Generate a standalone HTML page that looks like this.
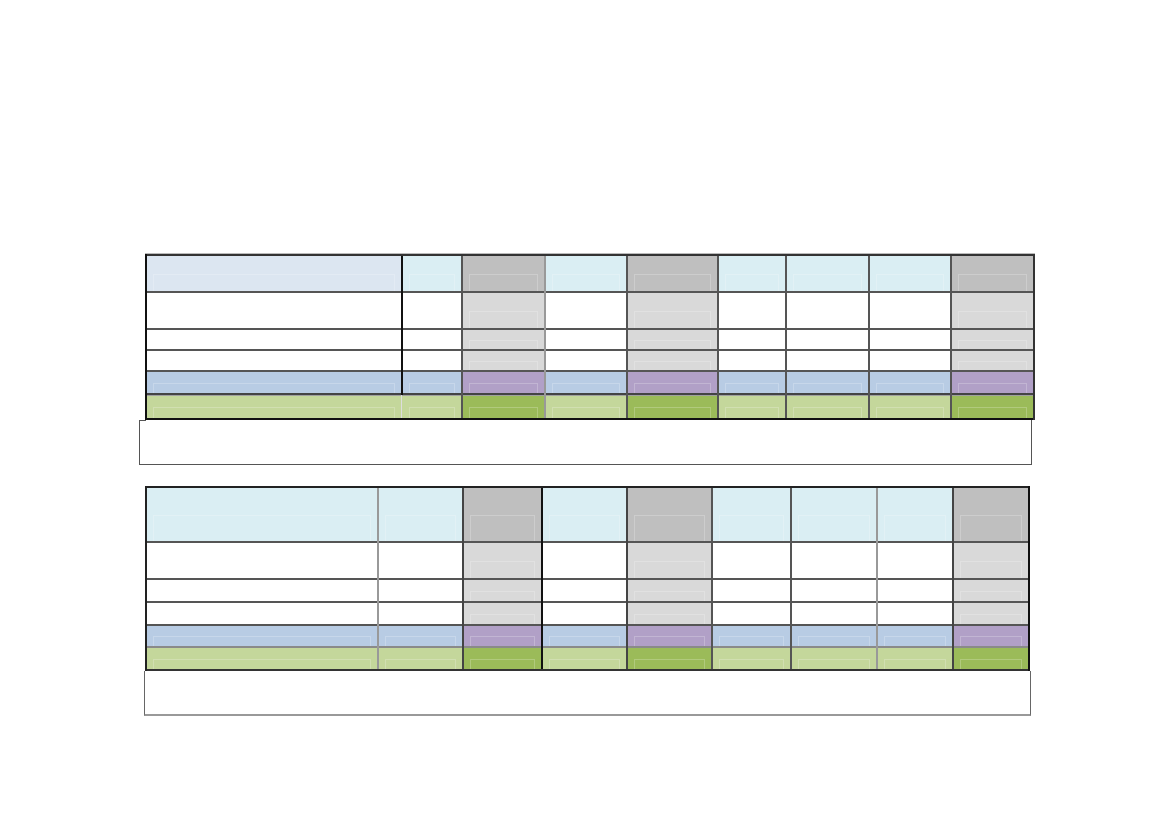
<!DOCTYPE html>
<html>
<head>
<meta charset="utf-8">
<style>
  html, body { margin:0; padding:0; background:#fff; }
  body { width:1169px; height:826px; position:relative; overflow:hidden; font-family:"Liberation Sans", sans-serif; }
  .grid { position:absolute; display:grid; }
  .grid > div { position:relative; }
  .grid > div::after { content:''; position:absolute; left:7px; right:7px; top:50%; bottom:0; border:1px solid rgba(255,255,255,0.22); border-bottom:none; }
  .hl { background:#dce6f1; }
  .hn { background:#daeef3; }
  .hg { background:#bfbfbf; }
  .bw { background:#ffffff; }
  .bg { background:#d9d9d9; }
  .ub { background:#b8cce4; }
  .up { background:#b1a0c7; }
  .gl { background:#c4d79b; }
  .gd { background:#9bbb59; }
  .l { position:absolute; }
</style>
</head>
<body>

<!-- TABLE 1 -->
<div class="grid" style="left:146px; top:255px; width:888px; height:164px; grid-template-columns:256px 60px 83px 82px 91px 68px 83px 82px 83px; grid-template-rows:37px 37px 21px 21px 23px 25px;">
  <div class="hl"></div><div class="hn"></div><div class="hg"></div><div class="hn"></div><div class="hg"></div><div class="hn"></div><div class="hn"></div><div class="hn"></div><div class="hg"></div>
  <div class="bw"></div><div class="bw"></div><div class="bg"></div><div class="bw"></div><div class="bg"></div><div class="bw"></div><div class="bw"></div><div class="bw"></div><div class="bg"></div>
  <div class="bw"></div><div class="bw"></div><div class="bg"></div><div class="bw"></div><div class="bg"></div><div class="bw"></div><div class="bw"></div><div class="bw"></div><div class="bg"></div>
  <div class="bw"></div><div class="bw"></div><div class="bg"></div><div class="bw"></div><div class="bg"></div><div class="bw"></div><div class="bw"></div><div class="bw"></div><div class="bg"></div>
  <div class="ub"></div><div class="ub"></div><div class="up"></div><div class="ub"></div><div class="up"></div><div class="ub"></div><div class="ub"></div><div class="ub"></div><div class="up"></div>
  <div class="gl"></div><div class="gl"></div><div class="gd"></div><div class="gl"></div><div class="gd"></div><div class="gl"></div><div class="gl"></div><div class="gl"></div><div class="gd"></div>
</div>

<!-- table 1 horizontal lines -->
<div class="l" style="left:146px; top:291px; width:888px; height:2px; background:#555;"></div>
<div class="l" style="left:146px; top:328px; width:888px; height:2px; background:#555;"></div>
<div class="l" style="left:146px; top:349px; width:888px; height:2px; background:#555;"></div>
<div class="l" style="left:146px; top:370px; width:888px; height:2px; background:#555;"></div>
<div class="l" style="left:146px; top:393px; width:888px; height:2px; background:#444;"></div>
<div class="l" style="left:146px; top:395px; width:888px; height:1px; background:#a0a0a0;"></div>
<!-- table 1 vertical lines -->
<div class="l" style="left:401px; top:255px; width:2px; height:140px; background:#111;"></div>
<div class="l" style="left:401px; top:395px; width:1px; height:24px; background:#ddd;"></div>
<div class="l" style="left:461px; top:255px; width:2px; height:164px; background:#555;"></div>
<div class="l" style="left:544px; top:255px; width:2px; height:164px; background:#999;"></div>
<div class="l" style="left:626px; top:255px; width:2px; height:164px; background:#555;"></div>
<div class="l" style="left:717px; top:255px; width:2px; height:164px; background:#555;"></div>
<div class="l" style="left:785px; top:255px; width:2px; height:164px; background:#555;"></div>
<div class="l" style="left:868px; top:255px; width:2px; height:164px; background:#555;"></div>
<div class="l" style="left:950px; top:255px; width:2px; height:164px; background:#555;"></div>
<!-- table 1 outer -->
<div class="l" style="left:145px; top:253px; width:890px; height:1px; background:#bbb;"></div>
<div class="l" style="left:145px; top:254px; width:890px; height:2px; background:#333;"></div>
<div class="l" style="left:145px; top:418px; width:890px; height:2px; background:#111;"></div>
<div class="l" style="left:145px; top:254px; width:2px; height:166px; background:#111;"></div>
<div class="l" style="left:1033px; top:254px; width:2px; height:166px; background:#333;"></div>
<!-- note box 1 -->
<div class="l" style="left:139px; top:420px; width:891px; height:44px; border:1px solid #555; border-top:none;"></div>
<div class="l" style="left:139px; top:420px; width:7px; height:1px; background:#555;"></div>

<!-- TABLE 2 -->
<div class="grid" style="left:146px; top:487px; width:883px; height:183px; grid-template-columns:232px 85px 79px 85px 85px 79px 86px 76px 76px; grid-template-rows:55px 37px 23px 23px 22px 23px;">
  <div class="hn"></div><div class="hn"></div><div class="hg"></div><div class="hn"></div><div class="hg"></div><div class="hn"></div><div class="hn"></div><div class="hn"></div><div class="hg"></div>
  <div class="bw"></div><div class="bw"></div><div class="bg"></div><div class="bw"></div><div class="bg"></div><div class="bw"></div><div class="bw"></div><div class="bw"></div><div class="bg"></div>
  <div class="bw"></div><div class="bw"></div><div class="bg"></div><div class="bw"></div><div class="bg"></div><div class="bw"></div><div class="bw"></div><div class="bw"></div><div class="bg"></div>
  <div class="bw"></div><div class="bw"></div><div class="bg"></div><div class="bw"></div><div class="bg"></div><div class="bw"></div><div class="bw"></div><div class="bw"></div><div class="bg"></div>
  <div class="ub"></div><div class="ub"></div><div class="up"></div><div class="ub"></div><div class="up"></div><div class="ub"></div><div class="ub"></div><div class="ub"></div><div class="up"></div>
  <div class="gl"></div><div class="gl"></div><div class="gd"></div><div class="gl"></div><div class="gd"></div><div class="gl"></div><div class="gl"></div><div class="gl"></div><div class="gd"></div>
</div>

<!-- table 2 horizontal lines -->
<div class="l" style="left:146px; top:541px; width:883px; height:2px; background:#555;"></div>
<div class="l" style="left:146px; top:578px; width:883px; height:2px; background:#555;"></div>
<div class="l" style="left:146px; top:601px; width:883px; height:2px; background:#555;"></div>
<div class="l" style="left:146px; top:624px; width:883px; height:2px; background:#555;"></div>
<div class="l" style="left:146px; top:646px; width:883px; height:2px; background:#8a8a8a;"></div>
<!-- table 2 vertical lines -->
<div class="l" style="left:377px; top:487px; width:2px; height:183px; background:#999;"></div>
<div class="l" style="left:462px; top:487px; width:2px; height:183px; background:#444;"></div>
<div class="l" style="left:541px; top:487px; width:2px; height:183px; background:#111;"></div>
<div class="l" style="left:626px; top:487px; width:2px; height:183px; background:#444;"></div>
<div class="l" style="left:711px; top:487px; width:2px; height:183px; background:#555;"></div>
<div class="l" style="left:790px; top:487px; width:2px; height:183px; background:#555;"></div>
<div class="l" style="left:876px; top:487px; width:2px; height:183px; background:#999;"></div>
<div class="l" style="left:952px; top:487px; width:2px; height:183px; background:#444;"></div>
<!-- table 2 outer -->
<div class="l" style="left:145px; top:486px; width:885px; height:2px; background:#222;"></div>
<div class="l" style="left:145px; top:669px; width:885px; height:2px; background:#333;"></div>
<div class="l" style="left:145px; top:486px; width:2px; height:185px; background:#222;"></div>
<div class="l" style="left:1028px; top:486px; width:2px; height:185px; background:#111;"></div>
<!-- note box 2 -->
<div class="l" style="left:144px; top:671px; width:885px; height:43px; border-left:1px solid #666; border-right:1px solid #666; border-bottom:2px solid #999;"></div>

</body>
</html>
